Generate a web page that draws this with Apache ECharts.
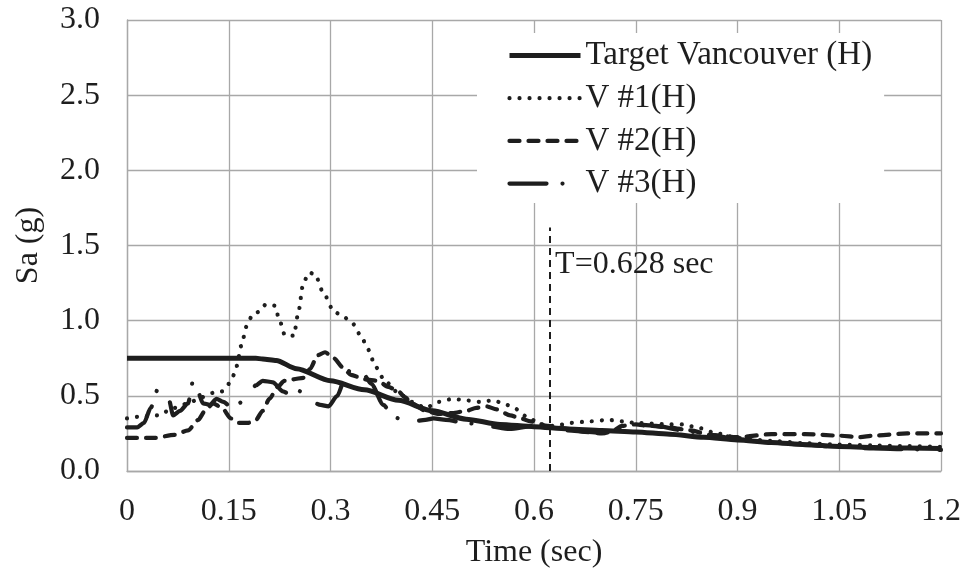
<!DOCTYPE html>
<html><head><meta charset="utf-8">
<script src="https://cdn.jsdelivr.net/npm/echarts@6/dist/echarts.min.js"></script>
<style>html,body{margin:0;padding:0;background:#fff}#c{width:964px;height:575px}</style>
</head><body><div id="c"></div>
<script>
// ---- data ----
const seriesNames = ['Target Vancouver (H)', 'V #1(H)', 'V #2(H)', 'V #3(H)'];
const xTicks = ['0', '0.15', '0.3', '0.45', '0.6', '0.75', '0.9', '1.05', '1.2'];
const yTicks = ['0.0', '0.5', '1.0', '1.5', '2.0', '2.5', '3.0'];

const tTarget = [0, 0.05, 0.1, 0.15, 0.19, 0.2, 0.22, 0.25, 0.3, 0.35, 0.4, 0.45, 0.5, 0.55, 0.6, 0.65, 0.7, 0.75, 0.8, 0.85, 0.9, 0.95, 1.0, 1.05, 1.1, 1.15, 1.2];
const saTarget = [0.75, 0.75, 0.75, 0.75, 0.75, 0.745, 0.735, 0.68, 0.6, 0.54, 0.47, 0.4, 0.345, 0.31, 0.295, 0.28, 0.27, 0.26, 0.245, 0.225, 0.207, 0.19, 0.175, 0.163, 0.157, 0.153, 0.15];

const tV1 = [0, 0.015, 0.045, 0.07, 0.09, 0.11, 0.127, 0.14, 0.148, 0.156, 0.162, 0.168, 0.177, 0.185, 0.195, 0.205, 0.218, 0.225, 0.233, 0.246, 0.252, 0.26, 0.268, 0.277, 0.29, 0.305, 0.318, 0.331, 0.345, 0.355, 0.367, 0.38, 0.4, 0.42, 0.44, 0.46, 0.48, 0.5, 0.52, 0.54, 0.555, 0.57, 0.59, 0.61, 0.63, 0.655, 0.68, 0.71, 0.73, 0.75, 0.8, 0.82, 0.84, 0.87, 0.9, 0.95, 1.0, 1.05, 1.1, 1.15, 1.2];
const saV1 = [0.35, 0.36, 0.37, 0.42, 0.45, 0.49, 0.52, 0.53, 0.57, 0.63, 0.7, 0.83, 0.97, 1.04, 1.06, 1.11, 1.1, 1.0, 0.9, 0.9, 1.04, 1.25, 1.32, 1.31, 1.18, 1.06, 1.03, 0.99, 0.9, 0.81, 0.69, 0.6, 0.52, 0.46, 0.42, 0.46, 0.48, 0.47, 0.46, 0.47, 0.45, 0.42, 0.36, 0.31, 0.3, 0.32, 0.33, 0.34, 0.33, 0.32, 0.31, 0.31, 0.29, 0.25, 0.22, 0.2, 0.185, 0.175, 0.17, 0.165, 0.16];

const tV2 = [0, 0.04, 0.07, 0.09, 0.105, 0.115, 0.127, 0.14, 0.153, 0.165, 0.178, 0.19, 0.2, 0.21, 0.222, 0.232, 0.245, 0.26, 0.27, 0.281, 0.292, 0.305, 0.318, 0.33, 0.35, 0.37, 0.385, 0.4, 0.41, 0.42, 0.44, 0.46, 0.48, 0.5, 0.515, 0.53, 0.545, 0.565, 0.58, 0.595, 0.62, 0.65, 0.675, 0.7, 0.713, 0.73, 0.75, 0.77, 0.8, 0.83, 0.86, 0.9, 0.95, 1.0, 1.05, 1.08, 1.1, 1.15, 1.2];
const saV2 = [0.22, 0.22, 0.24, 0.27, 0.34, 0.4, 0.45, 0.42, 0.35, 0.32, 0.32, 0.34, 0.4, 0.48, 0.56, 0.6, 0.61, 0.62, 0.68, 0.77, 0.79, 0.75, 0.69, 0.64, 0.61, 0.6, 0.56, 0.53, 0.49, 0.45, 0.4, 0.38, 0.385, 0.4, 0.42, 0.43, 0.41, 0.37, 0.35, 0.33, 0.3, 0.28, 0.26, 0.25, 0.26, 0.3, 0.31, 0.3, 0.29, 0.27, 0.24, 0.225, 0.245, 0.245, 0.235, 0.225, 0.235, 0.25, 0.25];

const tV3 = [0, 0.015, 0.025, 0.035, 0.046, 0.055, 0.062, 0.068, 0.078, 0.09, 0.098, 0.105, 0.112, 0.122, 0.132, 0.142, 0.155, 0.165, 0.18, 0.19, 0.2, 0.215, 0.23, 0.24, 0.25, 0.26, 0.273, 0.285, 0.297, 0.31, 0.32, 0.33, 0.345, 0.36, 0.378, 0.39, 0.4, 0.42, 0.44, 0.452, 0.47, 0.5, 0.53, 0.564, 0.6, 0.65, 0.68, 0.71, 0.73, 0.75, 0.78, 0.82, 0.86, 0.9, 0.95, 1.0, 1.05, 1.1, 1.15, 1.2];
const saV3 = [0.29, 0.29, 0.32, 0.42, 0.55, 0.52, 0.47, 0.37, 0.4, 0.45, 0.61, 0.52, 0.45, 0.44, 0.48, 0.46, 0.42, 0.45, 0.52, 0.57, 0.6, 0.59, 0.53, 0.51, 0.54, 0.52, 0.46, 0.44, 0.43, 0.5, 0.6, 0.68, 0.67, 0.58, 0.44, 0.38, 0.35, 0.33, 0.34, 0.35, 0.34, 0.32, 0.3, 0.28, 0.3, 0.27, 0.26, 0.25, 0.29, 0.31, 0.3, 0.27, 0.24, 0.21, 0.19, 0.175, 0.16, 0.15, 0.145, 0.14];

const periodT = 0.623;          // position of dashed marker line
const periodLabel = 'T=0.628 sec';
const periodLineTop = 1.62;
const periodLabelY = 1.37;

// ---- chart ----
const FONT = "'Liberation Serif', 'Times New Roman', serif";
const INK = '#1e1e1e';
const GRIDC = '#a8a8a8';
const zip = (xs, ys) => xs.map((x, i) => [x, ys[i]]);

const styles = [
  { width: 5, type: 'solid', cap: 'butt' },
  { width: 4.2, type: [0.01, 10], cap: 'round' },
  { width: 4.2, type: [10, 9], cap: 'round' },
  { width: 4.2, type: [37, 16, 0.01, 22], cap: 'round' }
];
const dataSets = [zip(tTarget, saTarget), zip(tV1, saV1), zip(tV2, saV2), zip(tV3, saV3)];

const series = seriesNames.map((name, i) => ({
  name,
  type: 'line',
  data: dataSets[i],
  symbol: 'none',
  showSymbol: false,
  smooth: 0.25,
  smoothMonotone: 'x',
  lineStyle: Object.assign({ color: INK, join: 'round' }, styles[i]),
  itemStyle: { color: INK },
  z: 3 + i
}));

series[0].markLine = {
  silent: true, symbol: ['none', 'none'], animation: false,
  lineStyle: { color: INK, width: 2, type: [7, 5] },
  label: { show: false },
  data: [[{ coord: [periodT, 0] }, { coord: [periodT, periodLineTop] }]]
};
series[0].markPoint = {
  silent: true, animation: false,
  symbol: 'rect', symbolSize: 1,
  itemStyle: { color: 'rgba(0,0,0,0)' },
  label: { show: true, position: 'right', distance: 5, formatter: periodLabel,
           fontSize: 32, fontFamily: FONT, color: INK },
  data: [{ coord: [periodT, periodLabelY] }]
};

const chart = echarts.init(document.getElementById('c'), null, { renderer: 'canvas' });
chart.setOption({
  animation: false,
  backgroundColor: '#fff',
  textStyle: { fontFamily: FONT, color: INK },
  grid: { left: 127, right: 23, top: 20, bottom: 104, containLabel: false },
  legend: {
    orient: 'vertical',
    left: 477, top: 33,
    padding: [6, 12, 3, 30],
    backgroundColor: '#fff',
    itemWidth: 71, itemHeight: 14, itemGap: 9.7,
    itemStyle: { color: 'rgba(0,0,0,0)', borderWidth: 0, opacity: 0 },
    lineStyle: { width: 'inherit', type: 'inherit', cap: 'inherit' },
    textStyle: { fontSize: 33, fontFamily: FONT, color: INK, lineHeight: 32 },
    data: seriesNames.map((n, i) => ({
      name: n,
      itemStyle: { color: 'rgba(0,0,0,0)', borderWidth: 0, opacity: 0 },
      lineStyle: Object.assign({ color: INK }, styles[i])
    })),
    selectedMode: false
  },
  xAxis: {
    type: 'value', min: 0, max: 1.2, interval: 0.15,
    name: 'Time (sec)', nameLocation: 'middle', nameGap: 66,
    nameTextStyle: { fontSize: 32, fontFamily: FONT, color: INK },
    axisLine: { show: true, lineStyle: { color: GRIDC, width: 1.3 } },
    axisTick: { show: false },
    axisLabel: { margin: 25, fontSize: 32, fontFamily: FONT, color: INK,
      formatter: v => xTicks[Math.round(v / 0.15)] },
    splitLine: { show: true, lineStyle: { color: GRIDC, width: 1.3 } }
  },
  yAxis: {
    type: 'value', min: 0, max: 3, interval: 0.5,
    name: 'Sa (g)', nameLocation: 'middle', nameGap: 82, nameRotate: 90,
    nameTextStyle: { fontSize: 32, fontFamily: FONT, color: INK },
    axisLine: { show: true, lineStyle: { color: GRIDC, width: 1.3 } },
    axisTick: { show: false },
    axisLabel: { margin: 27, fontSize: 32, fontFamily: FONT, color: INK,
      formatter: v => yTicks[Math.round(v / 0.5)] },
    splitLine: { show: true, lineStyle: { color: GRIDC, width: 1.3 } }
  },
  series
});
</script>
</body></html>
